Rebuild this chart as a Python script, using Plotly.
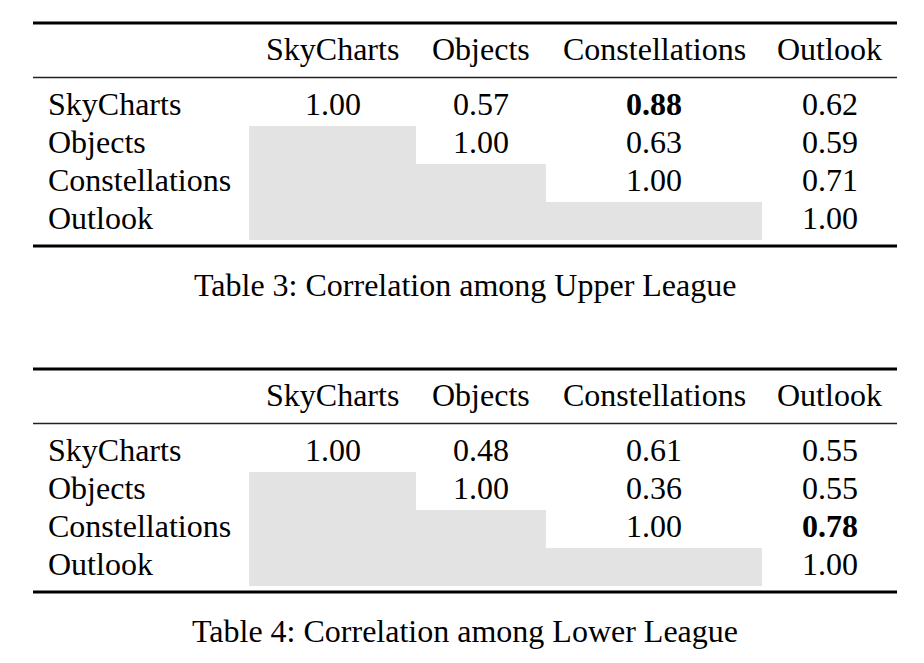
import plotly.graph_objects as go

# Row / column names of both correlation tables
names = ["SkyCharts", "Objects", "Constellations", "Outlook"]

# Upper triangle of each correlation matrix (None = shaded, empty)
upper_league = [
    [1.00, 0.57, 0.88, 0.62],
    [None, 1.00, 0.63, 0.59],
    [None, None, 1.00, 0.71],
    [None, None, None, 1.00],
]
lower_league = [
    [1.00, 0.48, 0.61, 0.55],
    [None, 1.00, 0.36, 0.55],
    [None, None, 1.00, 0.78],
    [None, None, None, 1.00],
]

# cells printed in bold (row, col)
upper_bold = [(0, 2)]
lower_bold = [(2, 3)]

captions = [
    "Table 3: Correlation among Upper League",
    "Table 4: Correlation among Lower League",
]

# page geometry (pixel units on the axes); the page body has an 8px margin
W, H = 924, 663
PAD = 8
col_edges = [33, 249, 416, 546, 762, 897]
table_tops = [23, 369]
HEADER_OFF = 26
MIDRULE_OFF = 54.5
ROW0_OFF = 65
ROW_H = 38
BOTTOM_OFF = 223
CAPTION_OFF = 262
GRAY = "#e3e3e3"
FONT = dict(family="Liberation Serif", size=32, color="black")

fig = go.Figure()


def add_text(text, x, y, anchor="center"):
    fig.add_annotation(x=x, y=y, xref="x", yref="y", text=text,
                       showarrow=False, xanchor=anchor, yanchor="middle",
                       font=FONT)


def add_table(top, values, bold, caption):
    x0, x1 = col_edges[0], col_edges[-1]
    # booktabs style rules
    fig.add_shape(type="line", xref="x", yref="y", x0=x0, x1=x1, y0=top, y1=top,
                  line=dict(color="black", width=2.8))
    fig.add_shape(type="line", xref="x", yref="y", x0=x0, x1=x1,
                  y0=top + MIDRULE_OFF, y1=top + MIDRULE_OFF,
                  line=dict(color="#222222", width=1.7))
    fig.add_shape(type="line", xref="x", yref="y", x0=x0, x1=x1,
                  y0=top + BOTTOM_OFF, y1=top + BOTTOM_OFF,
                  line=dict(color="black", width=2.8))

    # shaded lower triangle
    for i in range(1, len(names)):
        ry = top + ROW0_OFF + i * ROW_H
        fig.add_shape(type="rect", xref="x", yref="y",
                      x0=col_edges[1], x1=col_edges[i + 1], y0=ry, y1=ry + ROW_H,
                      fillcolor=GRAY, line_width=0, layer="below")

    # header
    for j, n in enumerate(names):
        cx = (col_edges[j + 1] + col_edges[j + 2]) / 2
        add_text(n, cx, top + HEADER_OFF)

    # body
    for i, n in enumerate(names):
        cy = top + ROW0_OFF + i * ROW_H + ROW_H / 2 - 3
        add_text(n, col_edges[0] + 13, cy, anchor="left")
        for j, v in enumerate(values[i]):
            if v is None:
                continue
            cx = (col_edges[j + 1] + col_edges[j + 2]) / 2
            s = f"{v:.2f}"
            if (i, j) in bold:
                s = f"<b>{s}</b>"
            add_text(s, cx, cy)

    add_text(caption, (x0 + x1) / 2, top + CAPTION_OFF)


add_table(table_tops[0], upper_league, upper_bold, captions[0])
add_table(table_tops[1], lower_league, lower_bold, captions[1])

fig.update_xaxes(range=[PAD, W], visible=False, fixedrange=True)
fig.update_yaxes(range=[H, PAD], visible=False, fixedrange=True)
fig.update_layout(
    width=W - PAD, height=H - PAD,
    margin=dict(l=0, r=0, t=0, b=0),
    paper_bgcolor="white",
    plot_bgcolor="white",
    showlegend=False,
)

fig.write_html("out.html")
